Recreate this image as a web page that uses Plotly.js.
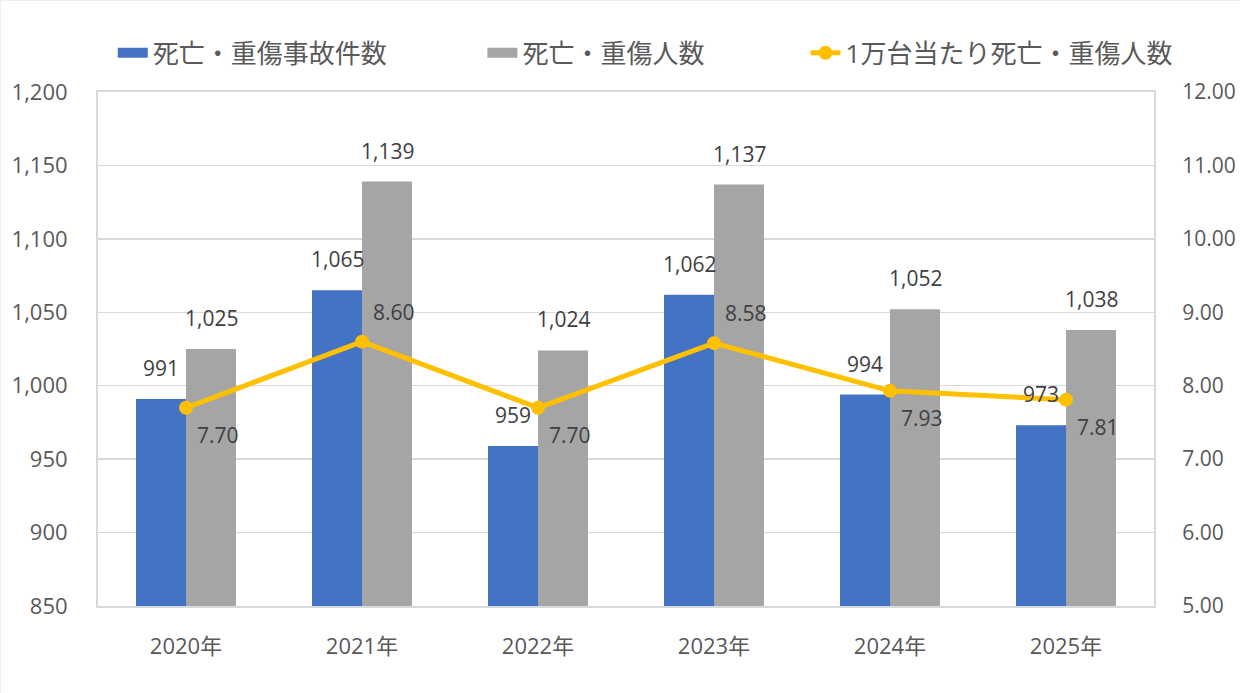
<!DOCTYPE html>
<html><head><meta charset="utf-8">
<script src="https://cdn.plot.ly/plotly-3.0.1.min.js"></script>
<style>html,body{margin:0;padding:0;background:#fff;} #c{width:1240px;height:693px;box-sizing:border-box;border:1px solid #eeeeee;}</style>
</head><body><div id="c"></div>
<script>
const years = ['2020年','2021年','2022年','2023年','2024年','2025年'];
const accidents = [991, 1065, 959, 1062, 994, 973];
const casualties = [1025, 1139, 1024, 1137, 1052, 1038];
const per10k = [7.70, 8.60, 7.70, 8.58, 7.93, 7.81];
const leftTicks = [850, 900, 950, 1000, 1050, 1100, 1150, 1200];
const rightTicks = [5, 6, 7, 8, 9, 10, 11, 12];
const seriesNames = ['死亡・重傷事故件数', '死亡・重傷人数', '1万台当たり死亡・重傷人数'];

const fnum = v => v.toLocaleString('en-US');
const FONT = '"Open Sans", "Noto Sans CJK JP", sans-serif';
const BLUE = '#4472c4', GRAY = '#a5a5a5', GOLD = '#ffc000';

const traces = [
  {type:'bar', name:seriesNames[0], x:years, y:accidents, marker:{color:BLUE}, hoverinfo:'none', showlegend:false},
  {type:'bar', name:seriesNames[1], x:years, y:casualties, marker:{color:GRAY}, hoverinfo:'none', showlegend:false},
  {type:'scatter', mode:'lines+markers', name:seriesNames[2], x:years, y:per10k, yaxis:'y2',
   line:{color:GOLD, width:5}, marker:{color:GOLD, size:14}, hoverinfo:'none', legend:'legend3'},
  // legend-only entries giving wide rectangular swatches for the bar series
  {type:'scatter', mode:'lines', name:seriesNames[0], x:[null], y:[null], line:{color:BLUE, width:12}, legend:'legend', hoverinfo:'none'},
  {type:'scatter', mode:'lines', name:seriesNames[1], x:[null], y:[null], line:{color:GRAY, width:12}, legend:'legend2', hoverinfo:'none'}
];

const ann = [];
const lblFont = {family:FONT, size:21, color:'#404040'};
years.forEach((yr,i)=>{
  ann.push({x:yr, y:accidents[i], xref:'x', yref:'y', text:fnum(accidents[i]), showarrow:false,
    yanchor:'bottom', xshift:-25, yshift:15, font:lblFont});
  ann.push({x:yr, y:casualties[i], xref:'x', yref:'y', text:fnum(casualties[i]), showarrow:false,
    yanchor:'bottom', xshift:25, yshift:15, font:lblFont});
  const prev = i>0 ? per10k[i-1] : -Infinity, next = i<per10k.length-1 ? per10k[i+1] : -Infinity;
  const above = per10k[i] > prev && per10k[i] > next;
  ann.push({x:yr, y:per10k[i], xref:'x', yref:'y2', text:per10k[i].toFixed(2), showarrow:false,
    yanchor:'middle', xshift:32, yshift: above ? 30 : -27, font:lblFont});
});

const legFont = {family:FONT, size:26, color:'#595959'};
const mkLeg = x => ({orientation:'h', x:x, xanchor:'left', y:1.076, yanchor:'middle', font:legFont,
  bgcolor:'rgba(0,0,0,0)', borderwidth:0});

const layout = {
  width:1240, height:693,
  margin:{l:97, r:87, t:91, b:88},
  paper_bgcolor:'#ffffff', plot_bgcolor:'#ffffff',
  font:{family:FONT, color:'#595959', size:22},
  barmode:'group', bargap:0.432, bargroupgap:0,
  showlegend:true,
  legend:mkLeg(0.014), legend2:mkLeg(0.364), legend3:mkLeg(0.67),
  xaxis:{type:'category', showgrid:false, showline:true, linecolor:'#d9d9d9', linewidth:2, mirror:true,
    ticks:'', tickfont:{size:22, color:'#595959'}, ticklabelstandoff:20, fixedrange:true},
  yaxis:{range:[850,1200], tickvals:leftTicks, ticktext:leftTicks.map(fnum), showgrid:true, gridcolor:'#d9d9d9', gridwidth:1.5,
    showline:true, linecolor:'#d9d9d9', linewidth:2, zeroline:false, ticks:'', ticklabelstandoff:24,
    tickfont:{size:22, color:'#595959'}, fixedrange:true},
  yaxis2:{range:[5,12], tickvals:rightTicks, ticktext:rightTicks.map(v=>v.toFixed(2)), overlaying:'y', side:'right',
    showgrid:false, showline:true, linecolor:'#d9d9d9', linewidth:2, zeroline:false, ticks:'', ticklabelstandoff:22,
    tickfont:{size:21, color:'#595959'}, fixedrange:true},
  annotations:ann
};
Plotly.newPlot('c', traces, layout, {displayModeBar:false, staticPlot:true});
</script></body></html>
